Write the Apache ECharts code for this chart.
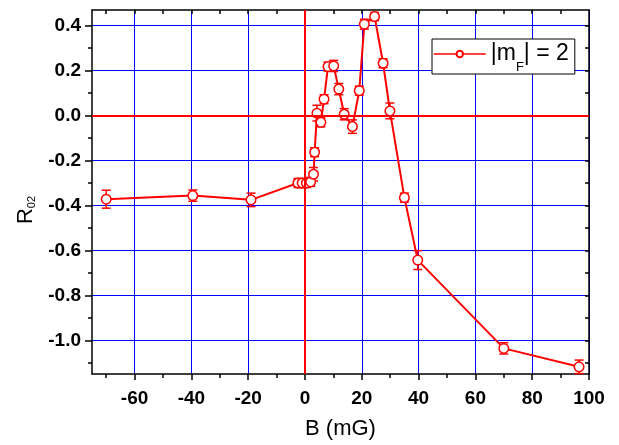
<!DOCTYPE html>
<html>
<head>
<meta charset="utf-8">
<script src="https://cdn.jsdelivr.net/npm/echarts@6/dist/echarts.min.js"></script>
<style>
  html, body { margin: 0; padding: 0; background: #fff; }
  #main { width: 619px; height: 445px; }
</style>
</head>
<body>
<div id="main"></div>
<script>
// B (mG), R02 und Fehler
var bVals = [-70, -39.5, -19, -2.5, -1, 0.5, 2, 3, 3.4, 4.2, 5.6, 6.7, 8.1, 10.1, 11.9, 13.8, 16.7, 19.1, 20.9, 24.5, 27.5, 29.9, 35, 39.7, 70, 96.5];
var rVals = [-0.372, -0.356, -0.375, -0.300, -0.300, -0.300, -0.295, -0.261, -0.163, 0.011, -0.030, 0.073, 0.218, 0.221, 0.118, 0.006, -0.049, 0.111, 0.407, 0.441, 0.233, 0.021, -0.365, -0.643, -1.036, -1.118];
var rErr = [0.040, 0.025, 0.030, 0.020, 0.020, 0.020, 0.020, 0.030, 0.020, 0.035, 0.020, 0.020, 0.020, 0.025, 0.025, 0.025, 0.030, 0.020, 0.022, 0.018, 0.020, 0.035, 0.020, 0.042, 0.025, 0.030];

// Achsen-Ticks
var xMajor = [-60, -40, -20, 0, 20, 40, 60, 80, 100];
var xMinor = [-70, -50, -30, -10, 10, 30, 50, 70, 90];
var xAll = [-70, -60, -50, -40, -30, -20, -10, 0, 10, 20, 30, 40, 50, 60, 70, 80, 90];
var yMajor = [-1.0, -0.8, -0.6, -0.4, -0.2, 0, 0.2, 0.4];
var yMinor = [-1.1, -0.9, -0.7, -0.5, -0.3, -0.1, 0.1, 0.3];
var yAll = [-1.1, -1.0, -0.9, -0.8, -0.7, -0.6, -0.5, -0.4, -0.3, -0.2, -0.1, 0, 0.1, 0.2, 0.3, 0.4];

var seriesName = '|mF| = 2';

var font = 'Liberation Sans, Arial, sans-serif';
var red = '#ff0000';
var blue = '#0000ff';

var pts = [];
for (var i = 0; i < bVals.length; i++) {
    pts.push([bVals[i], rVals[i], rErr[i]]);
}

function hiddenAxis(extra) {
    var a = {
        type: 'value',
        axisLine: { show: false, onZero: false },
        axisLabel: { show: false },
        splitLine: { show: false }
    };
    for (var k in extra) a[k] = extra[k];
    return a;
}

var chart = echarts.init(document.getElementById('main'));
chart.setOption({
    animation: false,
    backgroundColor: '#fff',
    grid: { left: 92, right: 30, top: 10, bottom: 71, outerBoundsMode: 'none' },
    legend: {
        left: 432,
        top: 39,
        padding: [0, 6, 0, 1],
        itemWidth: 52,
        itemHeight: 8,
        backgroundColor: '#fff',
        borderColor: '#000',
        borderWidth: 1,
        lineStyle: { width: 1.5 },
        data: [seriesName],
        formatter: function () { return '{m||m}{s|F}{m|| = 2}'; },
        textStyle: {
            fontFamily: font, fontSize: 23, color: '#000',
            rich: {
                m: { fontFamily: font, fontSize: 23, color: '#000', lineHeight: 30 },
                s: { fontFamily: font, fontSize: 13, color: '#000', lineHeight: 12, padding: [22, 0, 0, 0], verticalAlign: 'top' }
            }
        }
    },
    xAxis: [
        {
            type: 'value', min: -75, max: 100, position: 'bottom',
            name: 'B (mG)', nameLocation: 'middle', nameGap: 44,
            nameTextStyle: { fontFamily: font, fontSize: 22, color: '#000' },
            axisLine: { show: true, onZero: false, lineStyle: { color: '#000', width: 1.5 } },
            axisTick: { show: true, customValues: xMajor, length: 6, lineStyle: { color: '#000', width: 1.5 } },
            axisLabel: {
                customValues: xMajor, margin: 15,
                fontFamily: font, fontSize: 19, fontWeight: 'bold', color: '#000'
            },
            splitLine: { show: true, lineStyle: { color: blue, width: 1 } }
        },
        hiddenAxis({
            min: -75, max: 100, position: 'bottom',
            axisTick: { show: true, customValues: xMinor, length: 4, lineStyle: { color: '#000', width: 1.5 } }
        }),
        hiddenAxis({
            min: -75, max: 100, position: 'top',
            axisLine: { show: true, onZero: false, lineStyle: { color: '#000', width: 1.5 } },
            axisTick: { show: true, inside: true, customValues: xAll, length: 4, lineStyle: { color: '#000', width: 1.5 } }
        })
    ],
    yAxis: [
        {
            type: 'value', min: -1.15, max: 0.47, position: 'left',
            name: '{r|R}{s|02}', nameLocation: 'middle', nameGap: 55,
            nameTextStyle: {
                fontFamily: font, fontSize: 22, color: '#000', padding: [0, 36, 0, 0],
                rich: {
                    r: { fontFamily: font, fontSize: 22, color: '#000' },
                    s: { fontFamily: font, fontSize: 11, color: '#000', verticalAlign: 'bottom' }
                }
            },
            axisLine: { show: true, onZero: false, lineStyle: { color: '#000', width: 1.5 } },
            axisTick: { show: true, customValues: yMajor, length: 7, lineStyle: { color: '#000', width: 1.5 } },
            axisLabel: {
                customValues: yMajor, margin: 11,
                fontFamily: font, fontSize: 19, fontWeight: 'bold', color: '#000',
                formatter: function (v) { return v.toFixed(1); }
            },
            splitLine: { show: true, lineStyle: { color: blue, width: 1 } }
        },
        hiddenAxis({
            min: -1.15, max: 0.47, position: 'left',
            axisTick: { show: true, customValues: yMinor, length: 4, lineStyle: { color: '#000', width: 1.5 } }
        }),
        hiddenAxis({
            min: -1.15, max: 0.47, position: 'right',
            axisLine: { show: true, onZero: false, lineStyle: { color: '#000', width: 1.5 } },
            axisTick: { show: true, inside: true, customValues: yAll, length: 4, lineStyle: { color: '#000', width: 1.5 } }
        })
    ],
    series: [
        {
            // Fehlerbalken
            type: 'custom',
            xAxisIndex: 0,
            yAxisIndex: 0,
            z: 2,
            silent: true,
            encode: { x: 0, y: 1 },
            data: pts,
            renderItem: function (params, api) {
                var x = api.value(0), y = api.value(1), e = api.value(2);
                var top = api.coord([x, y + e]);
                var bot = api.coord([x, y - e]);
                var hw = 4.5;
                var st = { stroke: red, lineWidth: 1.5 };
                return {
                    type: 'group',
                    children: [
                        { type: 'line', shape: { x1: top[0], y1: top[1], x2: bot[0], y2: bot[1] }, style: st },
                        { type: 'line', shape: { x1: top[0] - hw, y1: top[1], x2: top[0] + hw, y2: top[1] }, style: st },
                        { type: 'line', shape: { x1: bot[0] - hw, y1: bot[1], x2: bot[0] + hw, y2: bot[1] }, style: st }
                    ]
                };
            }
        },
        {
            name: seriesName,
            type: 'line',
            xAxisIndex: 0,
            yAxisIndex: 0,
            z: 3,
            data: pts,
            symbol: 'circle',
            symbolSize: 9.5,
            showAllSymbol: true,
            lineStyle: { color: red, width: 2 },
            itemStyle: { color: '#fff', borderColor: red, borderWidth: 1.5 },
            markLine: {
                silent: true,
                symbol: ['none', 'none'],
                label: { show: false },
                lineStyle: { color: red, width: 2, type: 'solid' },
                data: [{ xAxis: 0 }, { yAxis: 0 }]
            }
        }
    ]
});
</script>
</body>
</html>
